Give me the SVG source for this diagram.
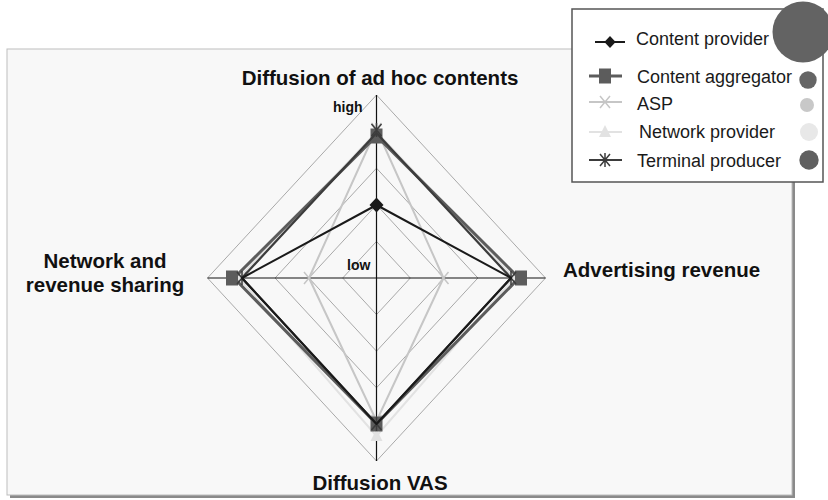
<svg xmlns="http://www.w3.org/2000/svg" width="828" height="500" viewBox="0 0 828 500">
  <style>
    .lbl { font-family: "Liberation Sans", Arial, sans-serif; font-weight: bold; font-size: 20.5px; fill: #111; }
    .tick { font-family: "Liberation Sans", Arial, sans-serif; font-weight: bold; font-size: 14px; fill: #111; }
    .leg { font-family: "Liberation Sans", Arial, sans-serif; font-size: 18px; fill: #1a1a1a; }
    .grid { fill: none; stroke: #a9a9a9; stroke-width: 1; }
    .axis { stroke: #111; stroke-width: 1.2; }
    .s-cp { fill: none; stroke: #1a1a1a; stroke-width: 2; stroke-linejoin: round; }
    .s-ca { fill: none; stroke: #5c5c5c; stroke-width: 3; stroke-linejoin: round; }
    .s-asp { fill: none; stroke: #c6c6c6; stroke-width: 2; stroke-linejoin: round; }
    .s-np { fill: none; stroke: #e2e2e2; stroke-width: 2; stroke-linejoin: round; }
    .s-tp { fill: none; stroke: #3c3c3c; stroke-width: 2.2; stroke-linejoin: round; }
  </style>
  <defs>
    <path id="m-diamond" d="M0,-7.5 L7,0 L0,7.5 L-7,0 Z" fill="#1a1a1a"/>
    <rect id="m-square" x="-6" y="-7.5" width="12" height="15" fill="#5c5c5c"/>
    <path id="m-x" d="M-5,-6 L5,6 M5,-6 L-5,6" stroke="#c6c6c6" stroke-width="1.5" fill="none"/>
    <path id="m-tri" d="M0,-7 L6,5 L-6,5 Z" fill="#e2e2e2"/>
    <path id="m-star" d="M-5,-6 L5,6 M5,-6 L-5,6 M0,-7 L0,7" stroke="#3c3c3c" stroke-width="1.5" fill="none"/>
  </defs>

  <rect width="828" height="500" fill="#ffffff"/>

  <!-- chart panel with drop shadow -->
  <g id="panel">
    <rect x="10" y="52" width="785" height="446" fill="#8a8a8a"/>
    <rect x="7" y="49" width="785" height="446" fill="#f8f8f8" stroke="#bdbdbd" stroke-width="1"/>
  </g>

  <!-- radar grid: five rings and two axes -->
  <g id="grid">
    <polygon class="grid" points="376.5,241.4 410.3,278 376.5,314.6 342.7,278"/>
    <polygon class="grid" points="376.5,204.8 444.1,278 376.5,351.2 308.9,278"/>
    <polygon class="grid" points="376.5,168.2 477.9,278 376.5,387.8 275.1,278"/>
    <polygon class="grid" points="376.5,131.6 511.7,278 376.5,424.4 241.3,278"/>
    <polygon class="grid" points="376.5,95 545.5,278 376.5,461 207.5,278"/>
    <line class="axis" x1="376.5" y1="95" x2="376.5" y2="461"/>
    <line class="axis" x1="207.5" y1="278" x2="545.5" y2="278"/>
  </g>

  <!-- data series -->
  <g id="series">
    <g id="network-provider">
      <polygon class="s-np" points="376.5,132 514,278 376.5,436 239,278"/>
      <use href="#m-tri" x="376.5" y="134"/>
      <use href="#m-tri" x="514" y="278"/>
      <use href="#m-tri" x="376.5" y="436"/>
      <use href="#m-tri" x="239" y="278"/>
    </g>
    <g id="asp">
      <polygon class="s-asp" points="376.5,129 443.5,278 376.5,421 309,278"/>
      <use href="#m-x" x="376.5" y="129"/>
      <use href="#m-x" x="443.5" y="278"/>
      <use href="#m-x" x="376.5" y="421"/>
      <use href="#m-x" x="309" y="278"/>
    </g>
    <g id="content-aggregator">
      <polygon class="s-ca" points="376.5,136 519,278 376.5,424 234,278"/>
      <use href="#m-square" x="376.5" y="136"/>
      <use href="#m-square" x="521" y="278"/>
      <use href="#m-square" x="376.5" y="424"/>
      <use href="#m-square" x="232" y="278"/>
    </g>
    <g id="terminal-producer">
      <polygon class="s-tp" points="376.5,133 511,278 376.5,424 242,278"/>
      <use href="#m-star" x="376.5" y="130"/>
      <use href="#m-star" x="511" y="278"/>
      <use href="#m-star" x="376.5" y="424"/>
      <use href="#m-star" x="242" y="278"/>
    </g>
    <g id="content-provider">
      <polygon class="s-cp" points="376.5,205 511,278 376.5,424 242,278"/>
      <use href="#m-diamond" x="376.5" y="205"/>
    </g>
  </g>

  <!-- axis captions -->
  <g id="labels">
    <text class="lbl" x="380" y="85" text-anchor="middle">Diffusion of ad hoc contents</text>
    <text class="lbl" x="563" y="277">Advertising revenue</text>
    <text class="lbl" x="380" y="490" text-anchor="middle">Diffusion VAS</text>
    <text class="lbl" x="105" y="268" text-anchor="middle">Network and</text>
    <text class="lbl" x="105" y="292" text-anchor="middle">revenue sharing</text>
    <text class="tick" x="333" y="112">high</text>
    <text class="tick" x="347" y="270">low</text>
  </g>

  <!-- legend -->
  <g id="legend">
    <rect x="572" y="9" width="251" height="173" fill="#ffffff" stroke="#555555" stroke-width="1.5"/>
    <g id="leg-cp">
      <line x1="595" y1="42" x2="625" y2="42" stroke="#1a1a1a" stroke-width="2"/>
      <use href="#m-diamond" x="610" y="42" transform="translate(610 42) scale(0.8) translate(-610 -42)"/>
      <text class="leg" x="636" y="45">Content provider</text>
    </g>
    <g id="leg-ca">
      <line x1="589" y1="76" x2="622" y2="76" stroke="#5c5c5c" stroke-width="3"/>
      <use href="#m-square" x="605" y="76"/>
      <text class="leg" x="637" y="83">Content aggregator</text>
    </g>
    <g id="leg-asp">
      <line x1="589" y1="102" x2="622" y2="102" stroke="#c6c6c6" stroke-width="2"/>
      <use href="#m-x" x="605" y="102"/>
      <text class="leg" x="637" y="110">ASP</text>
    </g>
    <g id="leg-np">
      <line x1="589" y1="132" x2="622" y2="132" stroke="#e2e2e2" stroke-width="2"/>
      <use href="#m-tri" x="605" y="132"/>
      <text class="leg" x="639" y="138">Network provider</text>
    </g>
    <g id="leg-tp">
      <line x1="589" y1="160" x2="622" y2="160" stroke="#3c3c3c" stroke-width="2"/>
      <use href="#m-star" x="605" y="160"/>
      <text class="leg" x="637" y="167">Terminal producer</text>
    </g>
    <circle cx="803" cy="32" r="30.5" fill="#636363"/>
    <circle cx="808" cy="80" r="8.7" fill="#656565"/>
    <circle cx="807" cy="105" r="7" fill="#c8c8c8"/>
    <circle cx="809" cy="132" r="9" fill="#e8e8e8"/>
    <circle cx="809" cy="160" r="9.7" fill="#606060"/>
  </g>
</svg>
